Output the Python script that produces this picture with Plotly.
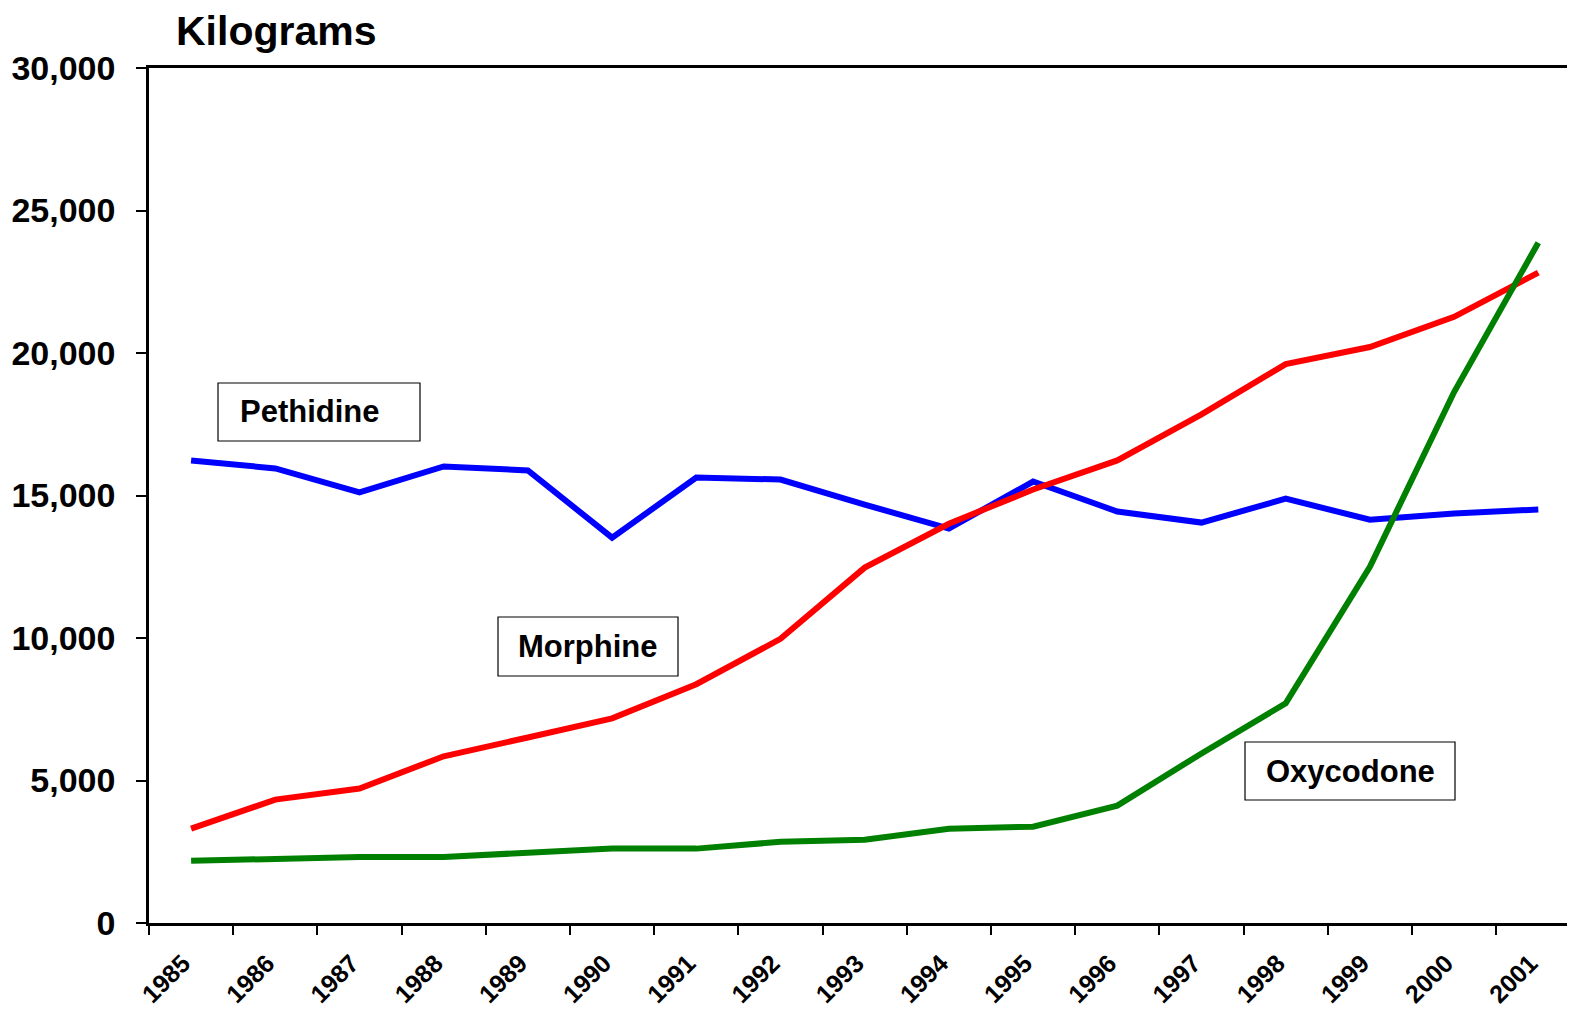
import plotly.graph_objects as go

years = [str(y) for y in range(1985, 2002)]
pethidine = [16230, 15950, 15110, 16020, 15880, 13520, 15630, 15560, 14680, 13840,
             15490, 14440, 14050, 14890, 14150, 14370, 14510]
morphine = [3310, 4330, 4720, 5850, 6510, 7180, 8380, 9970, 12470, 14010,
            15210, 16230, 17850, 19610, 20210, 21270, 22820]
oxycodone = [2180, 2250, 2320, 2320, 2470, 2610, 2610, 2850, 2920, 3310,
             3380, 4120, 5950, 7710, 12500, 18630, 23870]
y_ticks = [0, 5000, 10000, 15000, 20000, 25000, 30000]
y_tick_text = ["0", "5,000", "10,000", "15,000", "20,000", "25,000", "30,000"]

FONT = "Liberation Sans, Arial, sans-serif"

fig = go.Figure()
for name, vals, col in [("Pethidine", pethidine, "#0000FF"),
                        ("Morphine", morphine, "#FF0000"),
                        ("Oxycodone", oxycodone, "#008000")]:
    fig.add_trace(go.Scatter(x=years, y=vals, mode="lines", name=name,
                             line=dict(color=col, width=6)))

# page body has an 8px default margin; work in reference pixel coords and offset
OFF = 8
W, H = 1575 - OFF, 1011 - OFF
L, T, B, R = 149 - OFF, 68 - OFF, 923 - OFF, 1575 - OFF
pw, ph = R - L, B - T

def px(x):
    return (x - OFF - L) / pw

def py(y):
    return (B - (y - OFF)) / ph

boxes = [("Pethidine", 218, 420, 383, 441, 238),
         ("Morphine", 498, 678, 617, 676, None),
         ("Oxycodone", 1245, 1455, 742, 800, None)]
for text, x0, x1, y0, y1, tx in boxes:
    fig.add_shape(type="rect", xref="paper", yref="paper",
                  x0=px(x0), x1=px(x1), y0=py(y1), y1=py(y0),
                  line=dict(color="black", width=1.2), fillcolor="white", layer="above")
    if tx is None:
        fig.add_annotation(x=px((x0 + x1) / 2), y=py((y0 + y1) / 2), xref="paper", yref="paper",
                           text="<b>%s</b>" % text, showarrow=False, xanchor="center", yanchor="middle",
                           font=dict(family=FONT, size=31, color="black"))
    else:
        fig.add_annotation(x=px(tx), y=py((y0 + y1) / 2), xref="paper", yref="paper",
                           text="<b>%s</b>" % text, showarrow=False, xanchor="left", yanchor="middle",
                           font=dict(family=FONT, size=31, color="black"))

fig.add_annotation(x=px(174), y=py(31), xref="paper", yref="paper", text="<b>Kilograms</b>",
                   showarrow=False, xanchor="left", yanchor="middle",
                   font=dict(family=FONT, size=41, color="black"))

fig.update_layout(
    width=W, height=H,
    margin=dict(l=L, r=W - R, t=T, b=H - B, autoexpand=False),
    paper_bgcolor="white", plot_bgcolor="white",
    showlegend=False,
    font=dict(family=FONT, color="black"),
)
fig.update_xaxes(type="category", range=[-0.5, (R - L) / 84.2 - 0.5], automargin=False,
                 tickson="boundaries", ticks="outside", ticklen=9, tickwidth=2, tickcolor="black",
                 showline=True, linecolor="black", linewidth=2.5, mirror=True,
                 showgrid=False, zeroline=False, tickangle=-45,
                 ticklabelstandoff=13, ticklabelshift=-8,
                 tickvals=years, ticktext=["<b>%s</b>" % y for y in years],
                 tickfont=dict(family=FONT, size=25, color="black"))
fig.update_yaxes(range=[0, 30000], tickvals=y_ticks, ticktext=["<b>%s</b>" % t for t in y_tick_text],
                 automargin=False,
                 ticks="outside", ticklen=10, tickwidth=2, tickcolor="black",
                 showline=True, linecolor="black", linewidth=2.5,
                 showgrid=False, zeroline=False, ticklabelstandoff=14,
                 tickfont=dict(family=FONT, size=34, color="black"))

fig.write_html("out.html")
